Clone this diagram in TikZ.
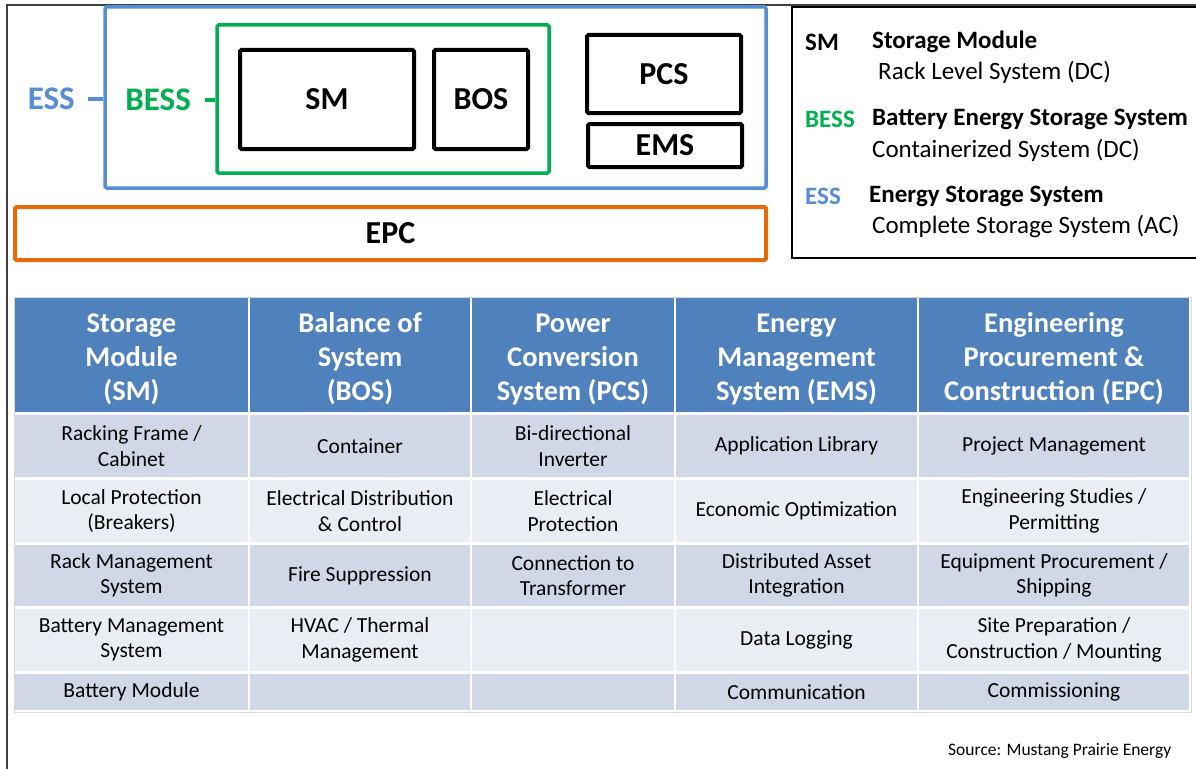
\documentclass[tikz,border=0pt]{standalone}
\usepackage{fontspec}
\setmainfont{Carlito}
\definecolor{essblue}{HTML}{558ED5}
\definecolor{bessgreen}{HTML}{00B050}
\definecolor{epcorange}{HTML}{E46C0A}
\definecolor{hdrblue}{HTML}{4F81BD}
\definecolor{cellA}{HTML}{D0D8E8}
\definecolor{cellB}{HTML}{E9EDF4}
\definecolor{framegray}{HTML}{404040}
\tikzset{
  blackbox/.style={draw=black, line width=4pt, rounded corners=1.5pt, font=\fontsize{32}{36}\selectfont\bfseries},
  essbox/.style={draw=essblue, line width=3.5pt, rounded corners=1.5pt},
  bessbox/.style={draw=bessgreen, line width=3.5pt, rounded corners=1.5pt},
  epcbox/.style={draw=epcorange, line width=4pt, rounded corners=1.5pt, font=\fontsize{32}{36}\selectfont\bfseries},
  biglabel/.style={inner sep=0pt, font=\fontsize{33}{36}\selectfont\bfseries},
  legbold/.style={anchor=west, inner sep=0pt, font=\fontsize{25}{29}\selectfont\bfseries},
  legtext/.style={anchor=west, inner sep=0pt, font=\fontsize{25}{29}\selectfont},
  hdr/.style={fill=hdrblue, inner sep=0pt},
  hdrtext/.style={text=white, inner sep=0pt, align=center, font=\fontsize{28.5}{34}\selectfont\bfseries},
  rowA/.style={fill=cellA, text=black, inner sep=0pt, align=center, font=\fontsize{21.5}{25.5}\selectfont},
  rowB/.style={fill=cellB, text=black, inner sep=0pt, align=center, font=\fontsize{21.5}{25.5}\selectfont},
}
% \tcell{name}{style}{x1}{y1}{x2}{y2}{text}
\newcommand{\tcell}[7]{%
  \node[#2, minimum width={#5-#3}, minimum height={#6-#4}] (#1) at ({(#3+#5)/2},{(#4+#6)/2}) {#7};}
% \hcell{name}{x1}{x2}{text}
\newcommand{\hcell}[4]{%
  \node[hdr, minimum width={#3-#2}, minimum height=114] (#1) at ({(#2+#3)/2},355) {};
  \node[hdrtext] (#1t) at ([yshift=-4pt]#1.center) {#4};}
\begin{document}
\begin{tikzpicture}[x=1pt,y=-1pt]
\useasboundingbox (0,0) rectangle (1196,768);
\fill[white] (0,0) rectangle (1196,768);
% outer frame lines
\draw[framegray, line width=1.5pt] (7,770) -- (7,5) -- (1200,5);

% ESS / BESS / boxes
\node[essbox, minimum width=661, minimum height=181] (ess) at (435.5,97.5) {};
\node[bessbox, minimum width=332, minimum height=148] (bess) at (383,99) {};
\node[blackbox, minimum width=174, minimum height=99] (sm) at (327,99.5) {SM};
\node[blackbox, minimum width=94, minimum height=99] (bos) at (481,99.5) {BOS};
\node[blackbox, minimum width=154, minimum height=78] (pcs) at (664,74) {PCS};
\node[blackbox, minimum width=154, minimum height=43] (ems) at (665,145.5) {EMS};
\node[epcbox, minimum width=751, minimum height=53] (epc) at (390.5,233.5) {EPC};

\node[biglabel, text=essblue, anchor=east] (esslbl) at (75,99) {ESS};
\draw[essblue, line width=3.5pt] ([xshift=13]esslbl.east) -- (esslbl.east -| ess.west);
\node[biglabel, text=bessgreen, anchor=east] (besslbl) at (191,100) {BESS};
\draw[bessgreen, line width=3.5pt] ([xshift=14]besslbl.east) -- (besslbl.east -| bess.west);

% legend
\draw[black, line width=1.5pt] (1200,7) -- (792,7) -- (792,258) -- (1200,258);
\node[legbold] (lsm) at (805,42) {SM};
\node[legbold] (lsmt) at (872,42) {Storage Module};
\node[legtext] (lsmd) at (878,72) {Rack Level System (DC)};
\node[legbold, text=bessgreen] (lbess) at (805,119) {BESS};
\node[legbold] (lbesst) at (872,119) {Battery Energy Storage System};
\node[legtext] (lbessd) at (872,150) {Containerized System (DC)};
\node[legbold, text=essblue] (less) at (805,196) {ESS};
\node[legbold] (lesst) at (869,196) {Energy Storage System};
\node[legtext] (lessd) at (872,227) {Complete Storage System (AC)};

% table
\draw[gray!30, line width=1pt] (14,297) rectangle (1191,712);
% header
\hcell{h1}{15}{248}{Storage\\Module\\(SM)}
\hcell{h2}{250}{470}{Balance of\\System\\(BOS)}
\hcell{h3}{472}{674}{Power\\Conversion\\System (PCS)}
\hcell{h4}{676}{917}{Energy\\Management\\System (EMS)}
\hcell{h5}{919}{1189}{Engineering\\Procurement \&\\Construction (EPC)}
% row 1
\tcell{a1}{rowA}{15}{415}{248}{477}{Racking Frame /\\Cabinet}
\tcell{a2}{rowA}{250}{415}{470}{477}{Container}
\tcell{a3}{rowA}{472}{415}{674}{477}{Bi-directional\\Inverter}
\tcell{a4}{rowA}{676}{415}{917}{477}{Application Library}
\tcell{a5}{rowA}{919}{415}{1189}{477}{Project Management}
% row 2
\tcell{b1}{rowB}{15}{480}{248}{542}{Local Protection\\(Breakers)}
\tcell{b2}{rowB}{250}{480}{470}{542}{Electrical Distribution\\\& Control}
\tcell{b3}{rowB}{472}{480}{674}{542}{Electrical\\Protection}
\tcell{b4}{rowB}{676}{480}{917}{542}{Economic Optimization}
\tcell{b5}{rowB}{919}{480}{1189}{542}{Engineering Studies /\\Permitting}
% row 3
\tcell{c1}{rowA}{15}{545}{248}{606}{Rack Management\\System}
\tcell{c2}{rowA}{250}{545}{470}{606}{Fire Suppression}
\tcell{c3}{rowA}{472}{545}{674}{606}{Connection to\\Transformer}
\tcell{c4}{rowA}{676}{545}{917}{606}{Distributed Asset\\Integration}
\tcell{c5}{rowA}{919}{545}{1189}{606}{Equipment Procurement /\\Shipping}
% row 4
\tcell{d1}{rowB}{15}{609}{248}{671}{Battery Management\\System}
\tcell{d2}{rowB}{250}{609}{470}{671}{HVAC / Thermal\\Management}
\tcell{d3}{rowB}{472}{609}{674}{671}{}
\tcell{d4}{rowB}{676}{609}{917}{671}{Data Logging}
\tcell{d5}{rowB}{919}{609}{1189}{671}{Site Preparation /\\Construction / Mounting}
% row 5
\tcell{e1}{rowA}{15}{674}{248}{710}{Battery Module}
\tcell{e2}{rowA}{250}{674}{470}{710}{}
\tcell{e3}{rowA}{472}{674}{674}{710}{}
\tcell{e4}{rowA}{676}{674}{917}{710}{Communication}
\tcell{e5}{rowA}{919}{674}{1189}{710}{Commissioning}

\node[anchor=west, inner sep=0pt, font=\fontsize{17.5}{20}\selectfont] (src) at (948,751) {Source: Mustang Prairie Energy};
\end{tikzpicture}
\end{document}
